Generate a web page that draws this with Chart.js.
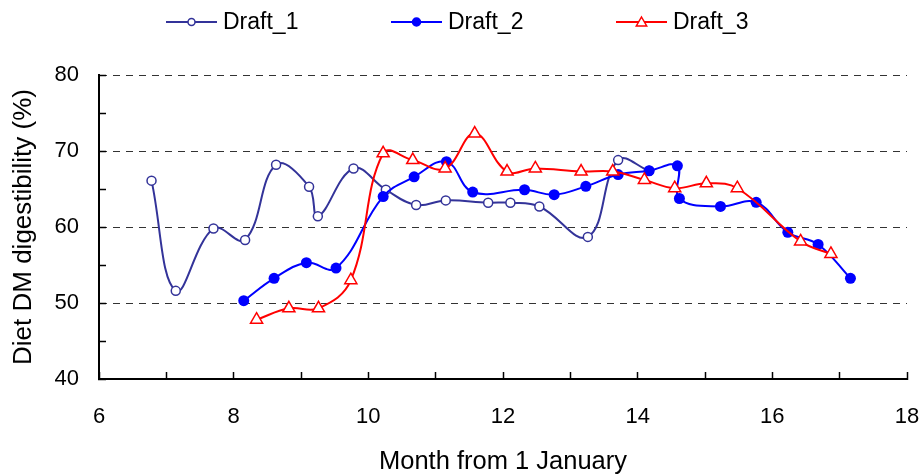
<!DOCTYPE html>
<html>
<head>
<meta charset="utf-8">
<script src="https://cdn.jsdelivr.net/npm/chart.js@4/dist/chart.umd.min.js"></script>
<style>
html, body { margin: 0; padding: 0; background: #fff; }
</style>
</head>
<body>
<canvas id="myChart" width="920" height="475"></canvas>
<script>
// values (month from 1 January, diet DM digestibility %)
let draft1X = [6.78, 7.14, 7.70, 8.17, 8.63, 9.12, 9.25, 9.78, 10.26, 10.71, 11.15, 11.78, 12.11, 12.54, 13.26, 13.71, 14.17];
let draft1Y = [66.1, 51.6, 59.8, 58.3, 68.2, 65.3, 61.4, 67.7, 64.9, 62.9, 63.5, 63.2, 63.2, 62.7, 58.7, 68.8, 67.4];

let draft2X = [8.15, 8.60, 9.08, 9.52, 10.22, 10.68, 11.16, 11.55, 12.32, 12.76, 13.23, 13.71, 14.17, 14.59, 14.62, 15.23, 15.76, 16.23, 16.68, 17.16];
let draft2Y = [50.3, 53.25, 55.3, 54.6, 64.0, 66.6, 68.6, 64.6, 64.9, 64.25, 65.35, 66.9, 67.4, 68.05, 63.75, 62.7, 63.25, 59.3, 57.7, 53.25];

let draft3X = [8.34, 8.82, 9.26, 9.74, 10.22, 10.66, 11.14, 11.58, 12.06, 12.48, 13.16, 13.63, 14.10, 14.55, 15.02, 15.48, 16.42, 16.87];
let draft3Y = [47.8, 49.3, 49.3, 53.0, 69.7, 68.8, 67.7, 72.3, 67.3, 67.7, 67.3, 67.3, 66.2, 65.1, 65.75, 65.1, 58.1, 56.45];

let seriesNames = ['Draft_1', 'Draft_2', 'Draft_3'];

// axis ticks
let xMin = 6, xMax = 18, xStep = 1;
let yMin = 40, yMax = 80, yStep = 5;

let fontName = "'Liberation Sans', Arial, sans-serif";

// zip x and y arrays into points
function makePoints(xs, ys) {
    let pts = [];
    for (let i = 0; i < xs.length; i++) {
        pts.push({ x: xs[i], y: ys[i] });
    }
    return pts;
}

// small marker drawing for the legend
function drawMarker(ctx, style, x, y, r, fill, stroke) {
    ctx.fillStyle = fill;
    ctx.strokeStyle = stroke;
    ctx.lineWidth = 1.5;
    ctx.beginPath();
    if (style === 'triangle') {
        ctx.moveTo(x, y - r);
        ctx.lineTo(x + r * 0.866, y + r * 0.5);
        ctx.lineTo(x - r * 0.866, y + r * 0.5);
        ctx.closePath();
    } else {
        ctx.arc(x, y, r, 0, Math.PI * 2);
    }
    ctx.fill();
    ctx.stroke();
}

// legend like the spreadsheet one: line with marker, then the name
let lineLegend = {
    id: 'lineLegend',
    afterDraw(chart) {
        let ctx = chart.ctx;
        let startX = [166, 391, 616];
        let y = 22;
        chart.data.datasets.forEach(function(ds, i) {
            let x0 = startX[i];
            ctx.save();
            ctx.strokeStyle = ds.borderColor;
            ctx.lineWidth = 2;
            ctx.beginPath();
            ctx.moveTo(x0, y);
            ctx.lineTo(x0 + 51, y);
            ctx.stroke();
            drawMarker(ctx, ds.pointStyle, x0 + 25.5, y + (ds.pointStyle === 'triangle' ? 1 : 0),
                ds.legendRadius, ds.pointBackgroundColor, ds.pointBorderColor);
            ctx.fillStyle = '#000';
            ctx.font = '23px ' + fontName;
            ctx.textBaseline = 'middle';
            ctx.textAlign = 'left';
            ctx.fillText(ds.label, x0 + 57, y + 1);
            ctx.restore();
        });
    }
};

let ctx = document.getElementById('myChart').getContext('2d');
let chart = new Chart(ctx, {
    type: 'line',
    data: {
        datasets: [{
            label: seriesNames[0],
            data: makePoints(draft1X, draft1Y),
            borderColor: '#333399',
            borderWidth: 2,
            pointStyle: 'circle',
            pointRadius: 4.5,
            pointBorderWidth: 1.5,
            pointBackgroundColor: '#ffffff',
            pointBorderColor: '#333399',
            legendRadius: 3.5,
            tension: 0.4,
            order: 3
        }, {
            label: seriesNames[1],
            data: makePoints(draft2X, draft2Y),
            borderColor: '#0000ff',
            borderWidth: 2,
            pointStyle: 'circle',
            pointRadius: 5.5,
            pointBorderWidth: 0,
            pointBackgroundColor: '#0000ff',
            pointBorderColor: '#0000ff',
            legendRadius: 4,
            tension: 0.4,
            order: 2
        }, {
            label: seriesNames[2],
            data: makePoints(draft3X, draft3Y),
            borderColor: '#ff0000',
            borderWidth: 2,
            pointStyle: 'triangle',
            pointRadius: 7,
            pointBorderWidth: 1.5,
            pointBackgroundColor: '#ffffff',
            pointBorderColor: '#ff0000',
            legendRadius: 6,
            tension: 0.4,
            order: 1
        }]
    },
    options: {
        responsive: false,
        animation: false,
        devicePixelRatio: 1,
        layout: { padding: { top: 75, right: 13, left: 0, bottom: 0 } },
        plugins: {
            legend: { display: false },
            tooltip: { enabled: false }
        },
        scales: {
            x: {
                type: 'linear',
                min: xMin,
                max: xMax,
                // fixed height, and no extra side padding from the tick padding
                afterFit: function(scale) {
                    scale.height = 96;
                    scale.paddingLeft = 0;
                    scale.paddingRight = 0;
                },
                ticks: {
                    stepSize: xStep,
                    autoSkip: false,
                    maxRotation: 0,
                    padding: 32,
                    color: '#000',
                    font: { family: fontName, size: 22 },
                    callback: function(v) { return v % 2 === 0 ? v : ''; }
                },
                grid: {
                    drawOnChartArea: false,
                    tickLength: -7,
                    tickColor: '#000',
                    tickWidth: 1.5
                },
                border: { color: '#000', width: 2 },
                title: {
                    display: true,
                    text: 'Month from 1 January',
                    color: '#000',
                    font: { family: fontName, size: 25.5, lineHeight: 1 },
                    padding: { top: 0, bottom: 0 }
                }
            },
            y: {
                min: yMin,
                max: yMax,
                afterFit: function(scale) { scale.width = 99; },
                ticks: {
                    stepSize: yStep,
                    padding: 27,
                    color: '#000',
                    font: { family: fontName, size: 22 },
                    callback: function(v) { return v % 10 === 0 ? v : ''; }
                },
                grid: {
                    color: function(c) {
                        return (c.tick && c.tick.value % 10 === 0 && c.tick.value > yMin) ? '#333333' : 'rgba(0,0,0,0)';
                    },
                    lineWidth: 1,
                    tickLength: -7,
                    tickColor: '#000',
                    tickWidth: 1.5
                },
                border: { color: '#000', width: 2, dash: [7, 6] },
                title: {
                    display: true,
                    text: 'Diet DM digestibility (%)',
                    color: '#000',
                    font: { family: fontName, size: 26 },
                    padding: { top: 8, bottom: 0 }
                }
            }
        }
    },
    plugins: [lineLegend]
});
</script>
</body>
</html>
